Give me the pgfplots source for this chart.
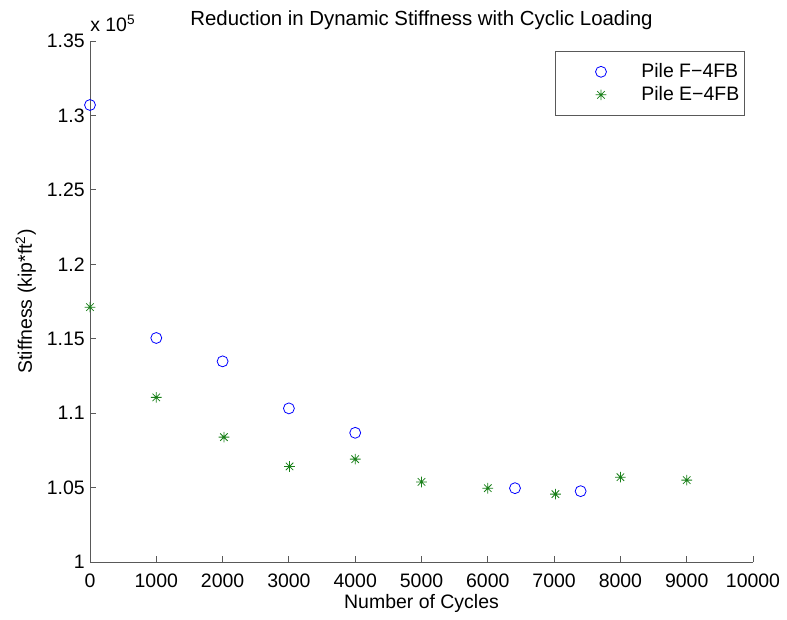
\documentclass[border=0pt]{standalone}
\usepackage{pgfplots}
\pgfplotsset{compat=1.18}
\usepackage{fontspec}
\setmainfont{Liberation Sans}
\definecolor{mgreen}{rgb}{0.1,0.5,0.1}
\definecolor{axgray}{gray}{0.35}
\pgfdeclareplotmark{mstar}{%
  \pgfpathmoveto{\pgfqpoint{-\pgfplotmarksize}{0pt}}\pgfpathlineto{\pgfqpoint{\pgfplotmarksize}{0pt}}%
  \pgfpathmoveto{\pgfqpoint{0pt}{-\pgfplotmarksize}}\pgfpathlineto{\pgfqpoint{0pt}{\pgfplotmarksize}}%
  \pgfpathmoveto{\pgfqpoint{-0.7\pgfplotmarksize}{-0.7\pgfplotmarksize}}\pgfpathlineto{\pgfqpoint{0.7\pgfplotmarksize}{0.7\pgfplotmarksize}}%
  \pgfpathmoveto{\pgfqpoint{-0.7\pgfplotmarksize}{0.7\pgfplotmarksize}}\pgfpathlineto{\pgfqpoint{0.7\pgfplotmarksize}{-0.7\pgfplotmarksize}}%
  \pgfusepathqstroke}
\begin{document}
\fontsize{14.6}{17}\selectfont
\begin{tikzpicture}
\useasboundingbox (0pt,0pt) rectangle (590.25pt,464.25pt);
\begin{axis}[
  at={(67.5pt,42.75pt)}, anchor=south west,
  scale only axis, width=497.25pt, height=390.75pt,
  xmin=0, xmax=10000, ymin=100000, ymax=135000,
  axis lines=left, axis line style={axgray, line width=0.7pt, -},
  every tick/.style={axgray, line width=0.7pt},
  tick align=inside, major tick length=4.5pt,
  xtick={0,1000,...,10000},
  ytick={100000,105000,110000,115000,120000,125000,130000,135000},
  yticklabels={1,1.05,1.1,1.15,1.2,1.25,1.3,1.35},
  scaled x ticks=false, scaled y ticks=false,
  /pgf/number format/assume math mode=true,
  xticklabel={\pgfmathprintnumber[fixed,1000 sep={}]{\tick}},
  xticklabel style={anchor=base, inner sep=0pt, yshift=-18.75pt},
  yticklabel style={anchor=east, inner sep=0pt, xshift=-3.75pt},
  title={Reduction in Dynamic Stiffness with Cyclic Loading},
  every axis title/.style={at={(axis description cs:0.5,1)}, anchor=base, yshift=12pt, inner sep=0pt, font=\fontsize{15.3}{18}\selectfont},
  xlabel={Number of Cycles},
  every axis x label/.style={at={(axis description cs:0.5,0)}, anchor=base, yshift=-34.5pt, inner sep=0pt},
  ylabel={Stiffness (kip*ft\textsuperscript{2})},
  every axis y label/.style={at={(axis description cs:0,0.5)}, xshift=-43.5pt, rotate=90, anchor=base, inner sep=0pt},
  legend style={at={(rel axis cs:0.988,0.981)}, anchor=north east, draw=axgray, line width=0.6pt,
    inner xsep=2pt, inner ysep=7pt, row sep=0.5pt, font=\fontsize{14.6}{16.5}\selectfont},
  legend cell align=left,
  legend image code/.code={\path (0pt,0pt) (60pt,0pt); \draw[#1] plot coordinates {(32pt,0pt)};},
  clip=false,
]
\addplot[only marks, mark=o, blue, mark size=4.1pt, line width=0.6pt] coordinates {
(0,130700) (1000,115050) (2000,113480) (3000,110320) (4000,108680) (6410,104960) (7400,104760)
};
\addlegendentry{Pile F−4FB}
\addplot[only marks, mark=mstar, mgreen, mark size=4pt, line width=0.6pt] coordinates {
(0,117120) (1000,111060) (2020,108390) (3010,106420) (4000,106910) (5000,105380) (6000,104960) (7020,104560) (8000,105700) (9000,105500)
};
\addlegendentry{Pile E−4FB}
\node[anchor=base west, inner sep=0pt] at (rel axis cs:0,1) [yshift=7.5pt] {x 10\textsuperscript{5}};
\end{axis}
\end{tikzpicture}
\end{document}
